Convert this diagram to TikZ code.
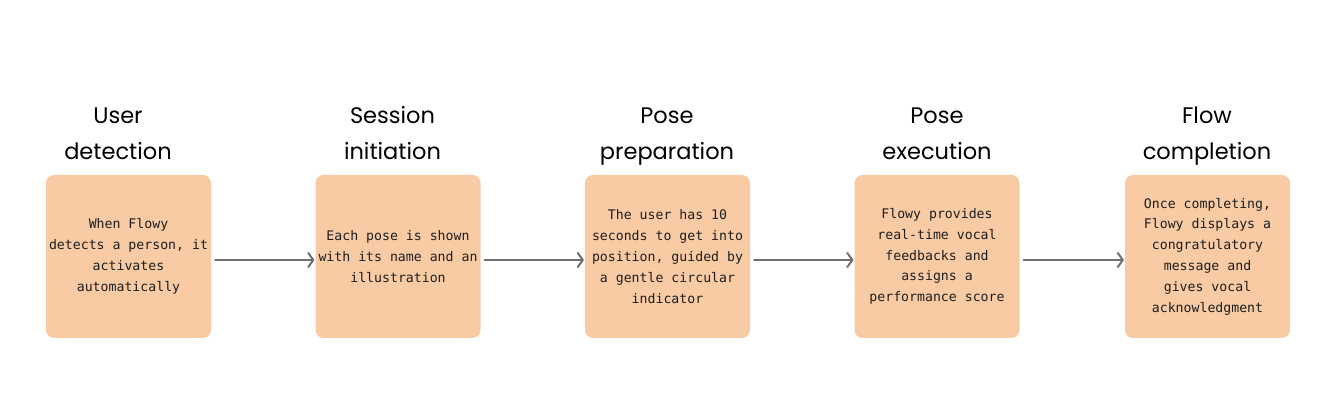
\documentclass[tikz,border=0pt]{standalone}
\usepackage{fontspec}
\usetikzlibrary{arrows.meta}
\newfontfamily\titlefont{Poppins}
\newfontfamily\bodyfont{DejaVu Sans Mono}
\definecolor{boxfill}{HTML}{F9CBA5}
\definecolor{inkc}{HTML}{1E1E1E}
\definecolor{arrowc}{HTML}{6F6F6F}
\tikzset{
  stepbox/.style={fill=boxfill, draw=none, rounded corners=8pt, minimum width=165pt, minimum height=163pt, inner sep=0pt, align=center, text=inkc, font=\fontsize{13.2}{20.8}\selectfont\bodyfont},
  steptitle/.style={anchor=south, inner sep=0pt, text depth=0pt, align=center, text=black, font=\fontsize{22.5}{36}\selectfont\titlefont},
  flowarrow/.style={draw=arrowc, line width=2pt, line cap=round, -{Straight Barb[length=5pt,width=14pt,line cap=round,line join=round]}, shorten <=4pt, shorten >=1pt}
}
\begin{document}
\begin{tikzpicture}[x=1pt,y=-1pt]
\useasboundingbox (0,0) rectangle (1335,411);
\node[stepbox] (b1) at (128.5,256.5) {When Flowy\\detects a person, it\\activates\\automatically};
\node[stepbox] (b2) at (398,256.5) {Each pose is shown\\with its name and an\\illustration};
\node[stepbox] (b3) at (667.5,256.5) {The user has 10\\seconds to get into\\position, guided by\\a gentle circular\\indicator};
\node[stepbox] (b4) at (937,256.5) {Flowy provides\\real-time vocal\\feedbacks and\\assigns a\\performance score};
\node[stepbox] (b5) at (1207.5,256.5) {Once completing,\\Flowy displays a\\congratulatory\\message and\\gives vocal\\acknowledgment};
\node[steptitle] (t1) at (118,160) {User\\detection};
\node[steptitle] (t2) at (392.5,160) {Session\\initiation};
\node[steptitle] (t3) at (667,160) {Pose\\preparation};
\node[steptitle] (t4) at (937,160) {Pose\\execution};
\node[steptitle] (t5) at (1207,160) {Flow\\completion};
\draw[flowarrow] ([yshift=-3.5pt]b1.east) -- ([yshift=-3.5pt]b2.west);
\draw[flowarrow] ([yshift=-3.5pt]b2.east) -- ([yshift=-3.5pt]b3.west);
\draw[flowarrow] ([yshift=-3.5pt]b3.east) -- ([yshift=-3.5pt]b4.west);
\draw[flowarrow] ([yshift=-3.5pt]b4.east) -- ([yshift=-3.5pt]b5.west);
\end{tikzpicture}
\end{document}
